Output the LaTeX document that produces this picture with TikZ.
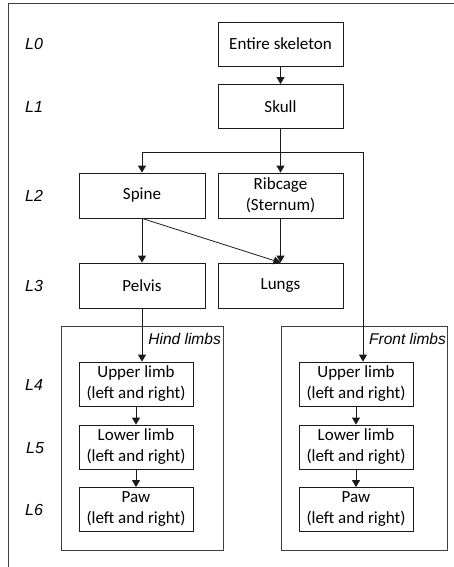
\documentclass[tikz,border=0pt]{standalone}
\usepackage{fontspec}
\setmainfont{Carlito}
\newfontfamily\arialfont{Liberation Sans}
\usepackage{xcolor}
\definecolor{skelLine}{HTML}{1A1A1A}
\definecolor{skelFrame}{HTML}{404040}
\usetikzlibrary{arrows.meta,positioning,calc}
\tikzset{
    part/.style={
        draw=skelLine,
        fill=white,
        rectangle,
        align=center,
        line width=0.8pt,
        inner sep=0pt,
        font=\fontsize{17}{21}\selectfont
    },
    group/.style={
        draw=skelFrame,
        line width=0.8pt
    },
    level/.style={
        anchor=west,
        inner sep=0pt,
        font=\arialfont\itshape\fontsize{16}{18}\selectfont
    },
    grouplabel/.style={
        anchor=east,
        inner sep=1pt,
        font=\arialfont\itshape\fontsize{15.5}{18}\selectfont
    },
    arrow/.style={
        -{Triangle[width=8pt,length=7pt]},
        line width=0.8pt,
        color=skelLine
    }
}

\begin{document}
\begin{tikzpicture}[x=1pt,y=-1pt]
    \clip (0,0) rectangle (454,567);
    % outer frame
    \draw[group] (8,3) rectangle (470,590);

    % level labels
    \node[level] (l0) at (25,44) {L0};
    \node[level] (l1) at (25,107) {L1};
    \node[level] (l2) at (25,196) {L2};
    \node[level] (l3) at (25,286) {L3};
    \node[level] (l4) at (25,385) {L4};
    \node[level] (l5) at (26,448) {L5};
    \node[level] (l6) at (25,510) {L6};

    % limb groups
    \draw[group] (61,326) rectangle (223,550);
    \draw[group] (281,326) rectangle (447,550);
    \node[grouplabel] (hind) at (222,339) {Hind limbs};
    \node[grouplabel] (front) at (447,339) {Front limbs};

    % trunk
    \node[part, minimum width=125pt, minimum height=44pt] (skeleton) at (280.5,44) {Entire skeleton};
    \node[part, minimum width=125pt, minimum height=44pt] (skull) at (280.5,106.5) {Skull};
    \node[part, minimum width=126pt, minimum height=45pt] (spine) at (142,195.5) {Spine};
    \node[part, minimum width=125pt, minimum height=45pt] (ribcage) at (280.5,195.5) {Ribcage\\(Sternum)};
    \node[part, minimum width=126pt, minimum height=45pt] (pelvis) at (142,285.5) {Pelvis};
    \node[part, minimum width=125pt, minimum height=45pt] (lungs) at (280.5,285.5) {Lungs};

    % limbs
    \foreach \side/\x in {h/136,f/356} {
        \node[part, minimum width=114pt, minimum height=44pt] (\side upper) at (\x,384) {Upper limb\\(left and right)};
        \node[part, minimum width=114pt, minimum height=44pt] (\side lower) at (\x,447) {Lower limb\\(left and right)};
        \node[part, minimum width=114pt, minimum height=44pt] (\side paw) at (\x,509.5) {Paw\\(left and right)};
        \draw[arrow] (\side upper) -- (\side lower);
        \draw[arrow] (\side lower) -- (\side paw);
    }

    % connectors
    \coordinate (split) at (280.5,152);
    \draw[arrow] (skeleton) -- (skull);
    \draw[arrow] (skull) -- (ribcage);
    \draw[arrow] (split) -| (spine);
    \draw[arrow] (split) -| ([xshift=7pt]fupper.north);
    \draw[arrow] (spine) -- (pelvis);
    \draw[arrow] (spine.south) -- (lungs.north);
    \draw[arrow] (ribcage) -- (lungs);
    \draw[arrow] (pelvis.south) -- (pelvis.south |- hupper.north);
\end{tikzpicture}
\end{document}
